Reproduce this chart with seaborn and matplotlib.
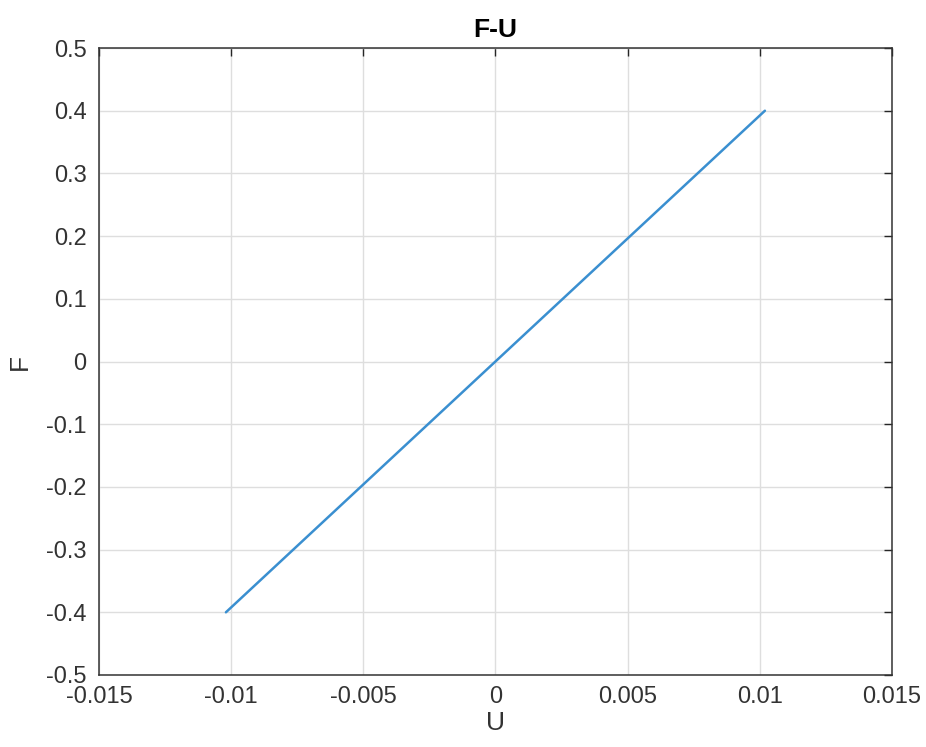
import matplotlib
matplotlib.use('Agg')
import matplotlib.pyplot as plt
import seaborn as sns
import pandas as pd

# data
U = [-0.0102, 0.0, 0.0102]
F = [-0.4, 0.0, 0.4]
x_ticks = [-0.015, -0.01, -0.005, 0, 0.005, 0.01, 0.015]
x_labels = ['-0.015', '-0.01', '-0.005', '0', '0.005', '0.01', '0.015']
y_ticks = [-0.5, -0.4, -0.3, -0.2, -0.1, 0, 0.1, 0.2, 0.3, 0.4, 0.5]
y_labels = ['-0.5', '-0.4', '-0.3', '-0.2', '-0.1', '0', '0.1', '0.2', '0.3', '0.4', '0.5']

df = pd.DataFrame({'U': U, 'F': F})

sns.set_style('white')
plt.rcParams['font.family'] = ['Liberation Sans', 'DejaVu Sans']

fig = plt.figure(figsize=(9.26, 7.47), dpi=100)
ax = fig.add_axes([0.107, 0.0964, 0.856, 0.8393])

sns.lineplot(data=df, x='U', y='F', color='#3A8FD0', linewidth=1.8, ax=ax)

ax.set_xlim(-0.015, 0.015)
ax.set_ylim(-0.5, 0.5)
ax.set_xticks(x_ticks)
ax.set_xticklabels(x_labels)
ax.set_yticks(y_ticks)
ax.set_yticklabels(y_labels)
ax.grid(True, color='#dedede', linewidth=1.0)
ax.set_axisbelow(True)
ax.tick_params(direction='in', length=6, width=1.0, color='#262626',
               labelsize=17, labelcolor='#333333', top=True, right=True)
ax.tick_params(axis='x', pad=8)
ax.tick_params(axis='y', pad=9)
for s in ax.spines.values():
    s.set_color('#333333')
    s.set_linewidth(1.1)

ax.set_title('F-U', fontsize=19, fontweight='bold', color='black', pad=8)
ax.set_xlabel('U', fontsize=19, color='#333333', labelpad=2)
ax.set_ylabel('F', fontsize=19, color='#333333', labelpad=10)

plt.savefig('out.png', dpi=100)
